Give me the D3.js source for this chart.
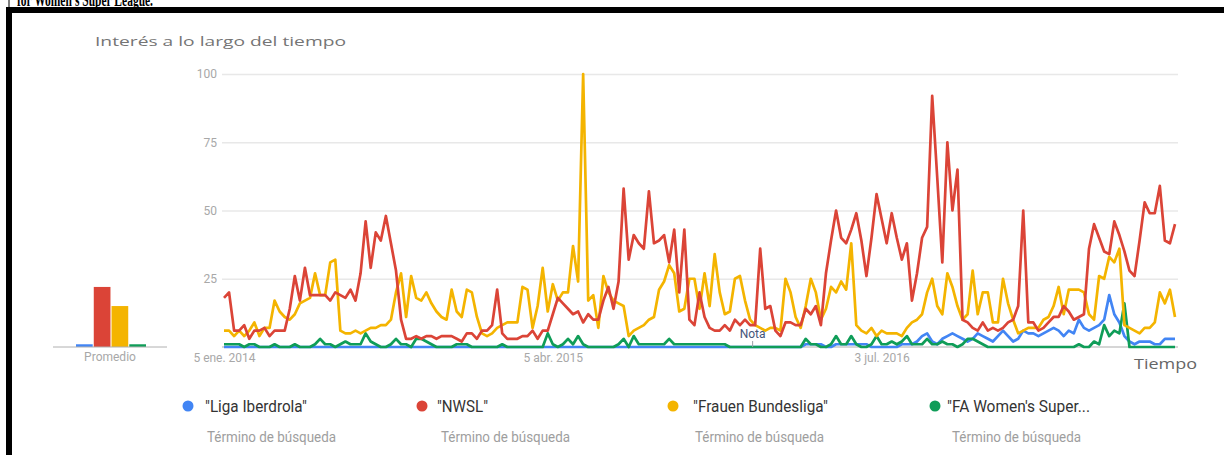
<!DOCTYPE html>
<html>
<head>
<meta charset="utf-8">
<script src="https://cdn.jsdelivr.net/npm/d3@7"></script>
<style>
  body { margin: 0; background: #fff; }
  svg { display: block; }
</style>
</head>
<body>
<svg id="chart" width="1224" height="455"></svg>
<script>
/****************************************************************
    Data (weekly, first week = 5 Jan 2014)
/****************************************************************/
const firstWeek = '2014-01-05'

const ligaIberdrola = [
  0, 0, 0, 0, 0, 0, 0, 0, 0, 0,
  0, 0, 0, 0, 0, 0, 0, 0, 0, 0,
  0, 0, 0, 0, 0, 0, 0, 0, 0, 0,
  0, 0, 0, 0, 0, 0, 0, 0, 0, 0,
  0, 0, 0, 0, 0, 0, 0, 0, 0, 0,
  0, 0, 0, 0, 0, 0, 0, 0, 0, 0,
  0, 0, 0, 0, 0, 0, 0, 0, 0, 0,
  0, 0, 0, 0, 0, 0, 0, 0, 0, 0,
  0, 0, 0, 0, 0, 0, 0, 0, 0, 0,
  0, 0, 0, 0, 0, 0, 0, 0, 0, 0,
  0, 0, 0, 0, 0, 0, 0, 0, 0, 0,
  0, 0, 0, 0, 0, 1, 1, 1, 1, 0,
  0, 1, 1, 1, 1, 1, 1, 1, 0, 0,
  0, 0, 0, 0, 1, 1, 1, 2, 4, 5,
  2, 1, 3, 4, 5, 4, 3, 2, 3, 5,
  4, 3, 2, 4, 6, 4, 2, 3, 6, 5,
  5, 4, 5, 6, 7, 6, 4, 6, 5, 10,
  7, 6, 7, 8, 10, 19, 12, 9, 4, 2,
  1, 2, 2, 2, 1, 1, 3, 3, 3
]

const nwsl = [
  18, 20, 6, 6, 8, 3, 6, 6, 7, 4,
  6, 6, 6, 14, 26, 17, 29, 19, 19, 19,
  19, 17, 20, 19, 18, 21, 17, 27, 46, 29,
  42, 39, 48, 38, 28, 10, 3, 3, 4, 3,
  4, 4, 3, 4, 4, 4, 3, 2, 5, 5,
  3, 6, 6, 8, 21, 5, 3, 3, 3, 4,
  4, 6, 3, 6, 6, 12, 18, 16, 14, 12,
  13, 9, 12, 10, 10, 17, 22, 14, 24, 58,
  32, 41, 38, 36, 57, 38, 39, 41, 31, 43,
  20, 43, 10, 8, 20, 11, 7, 6, 6, 8,
  6, 10, 8, 10, 8, 8, 36, 14, 15, 6,
  4, 9, 9, 8, 8, 14, 12, 15, 8, 27,
  39, 50, 40, 38, 43, 49, 39, 26, 40, 56,
  47, 38, 49, 40, 32, 38, 17, 27, 40, 44,
  92, 62, 31, 75, 50, 65, 10, 9, 7, 6,
  9, 6, 7, 6, 7, 9, 10, 15, 50, 9,
  9, 6, 7, 9, 11, 11, 15, 13, 10, 11,
  12, 36, 45, 40, 35, 34, 46, 41, 35, 28,
  26, 39, 53, 49, 49, 59, 39, 38, 45
]

const frauenBundesliga = [
  6, 6, 4, 6, 4, 6, 9, 4, 7, 7,
  17, 13, 11, 10, 12, 16, 17, 18, 27, 19,
  19, 31, 32, 6, 5, 5, 6, 5, 6, 7,
  7, 8, 8, 10, 20, 27, 11, 26, 18, 17,
  20, 16, 13, 11, 10, 21, 13, 11, 21, 20,
  11, 5, 4, 5, 7, 8, 9, 9, 9, 22,
  21, 7, 15, 29, 13, 23, 17, 20, 20, 37,
  24, 100, 17, 19, 7, 26, 20, 17, 16, 15,
  4, 6, 7, 8, 10, 11, 21, 24, 30, 27,
  13, 14, 25, 25, 14, 27, 15, 34, 20, 12,
  13, 25, 26, 17, 10, 8, 7, 6, 7, 7,
  6, 25, 20, 11, 7, 15, 25, 20, 10, 14,
  22, 20, 24, 21, 38, 8, 6, 5, 7, 4,
  6, 5, 5, 5, 4, 7, 9, 10, 12, 20,
  25, 15, 12, 27, 22, 15, 10, 12, 28, 12,
  20, 20, 9, 9, 25, 16, 10, 5, 6, 7,
  7, 7, 10, 11, 15, 22, 12, 21, 21, 21,
  20, 12, 10, 26, 25, 33, 31, 36, 8, 7,
  6, 5, 7, 7, 9, 20, 16, 21, 11
]

const faWomensSuperLeague = [
  1, 1, 1, 1, 0, 1, 1, 0, 0, 0,
  1, 0, 0, 0, 1, 0, 0, 0, 1, 3,
  1, 1, 0, 1, 2, 1, 1, 1, 5, 2,
  1, 0, 0, 1, 3, 1, 1, 0, 3, 3,
  2, 1, 0, 0, 0, 0, 1, 1, 1, 0,
  0, 0, 0, 0, 0, 1, 0, 0, 0, 0,
  0, 0, 0, 0, 5, 1, 0, 1, 3, 1,
  4, 1, 0, 0, 0, 0, 0, 0, 1, 3,
  0, 4, 1, 1, 1, 1, 1, 1, 3, 1,
  1, 1, 1, 1, 1, 1, 1, 1, 1, 1,
  0, 0, 0, 0, 0, 0, 0, 0, 0, 0,
  0, 0, 0, 0, 0, 3, 1, 1, 0, 0,
  1, 4, 1, 1, 4, 1, 0, 0, 1, 4,
  1, 1, 2, 1, 2, 4, 1, 1, 1, 3,
  1, 1, 2, 1, 1, 0, 1, 3, 3, 2,
  1, 0, 0, 0, 0, 0, 0, 0, 0, 0,
  0, 0, 0, 0, 0, 0, 0, 0, 0, 1,
  0, 0, 2, 1, 8, 4, 6, 5, 16, 0,
  0, 0, 0, 0, 0, 0, 0, 0, 0
]

const seriesLabels = ['"Liga Iberdrola"', '"NWSL"', '"Frauen Bundesliga"', '"FA Women\'s Super...']
const averages = [1, 22, 15, 1]
const yTicks = [25, 50, 75, 100]
const xTickDates = ['2014-01-05', '2015-04-05', '2016-07-03']
const xTickLabels = ['5 ene. 2014', '5 abr. 2015', '3 jul. 2016']
const noteDate = '2016-01-01'

/****************************************************************
    Constant settings (layout and style only)
/****************************************************************/
const settings = {
  colors: ['#4285f4', '#db4437', '#f4b400', '#0f9d58'],
  plotLeft: 222, // gridline start
  plotRight: 1178, // gridline end
  dataLeft: 224, // first week
  dataRight: 1175, // last week
  yZero: 347,
  yHundred: 74,
  barLeft: 76,
  barRight: 146,
  barBaseLeft: 53,
  barBaseRight: 167,
  legendDotX: [188, 422, 673, 935],
  legendTextX: [205, 437, 693, 947],
  legendTextW: [102, 51, 135, 143],
  legendSubX: [207, 441, 695, 952],
  lineWidth: 2.7,
  tickFont: 'Roboto',
  grid: '#e8e8e8',
  tickColor: '#a8a8a8'
}

const svg = d3.select('#chart')
const parse = d3.timeParse('%Y-%m-%d')

/****************************************************************
    Pieces of the page the chart was cut out of
/****************************************************************/
svg.append('text')
  .text("for Women's Super League.")
  .attr('x', 17)
  .attr('y', 6)
  .attr('textLength', 136)
  .attr('lengthAdjust', 'spacingAndGlyphs')
  .style('font-family', 'Liberation Serif')
  .style('font-weight', 'bold')
  .style('font-size', '18px')
svg.append('line').attr('x1', 9).attr('x2', 9).attr('y1', 0).attr('y2', 8)
  .style('stroke', '#000').style('stroke-width', 1)
svg.append('rect').attr('x', 6).attr('y', 7).attr('width', 1218).attr('height', 6).style('fill', '#000')
svg.append('rect').attr('x', 6).attr('y', 7).attr('width', 6).attr('height', 448).style('fill', '#000')

/****************************************************************
    Scales
/****************************************************************/
const weeks = nwsl.map((d, i) => d3.timeWeek.offset(parse(firstWeek), i))
const x = d3.scaleTime()
  .domain([weeks[0], weeks[weeks.length - 1]])
  .range([settings.dataLeft, settings.dataRight])
const y = d3.scaleLinear().domain([0, 100]).range([settings.yZero, settings.yHundred])

/****************************************************************
    Title
/****************************************************************/
svg.append('text')
  .text('Interés a lo largo del tiempo')
  .attr('x', 95)
  .attr('y', 46)
  .attr('textLength', 251)
  .attr('lengthAdjust', 'spacingAndGlyphs')
  .style('font-family', 'Open Sans')
  .style('font-size', '13px')
  .style('fill', '#757575')

/****************************************************************
    Y grid and labels
/****************************************************************/
const yAxis = svg.append('g')
  .attr('transform', `translate(${settings.plotLeft},0)`)
  .call(d3.axisLeft(y).tickValues(yTicks)
    .tickSize(-(settings.plotRight - settings.plotLeft)).tickPadding(5))
yAxis.select('.domain').remove()
yAxis.selectAll('line').style('stroke', settings.grid).style('stroke-width', 1.5)
yAxis.selectAll('text')
  .style('font-family', settings.tickFont)
  .style('font-size', '12px')
  .style('fill', settings.tickColor)

// baseline
svg.append('line')
  .attr('x1', settings.plotLeft).attr('x2', settings.plotRight)
  .attr('y1', y(0)).attr('y2', y(0))
  .style('stroke', '#c8c8c8').style('stroke-width', 1.5)

/****************************************************************
    X labels
/****************************************************************/
const xAxis = svg.append('g')
  .attr('transform', `translate(0,${y(0)})`)
  .call(d3.axisBottom(x).tickValues(xTickDates.map(parse))
    .tickFormat((d, i) => xTickLabels[i]).tickSize(0).tickPadding(6))
xAxis.select('.domain').remove()
xAxis.selectAll('text')
  .style('font-family', settings.tickFont)
  .style('font-size', '12px')
  .style('fill', settings.tickColor)

svg.append('text')
  .text('Tiempo')
  .attr('x', 1134)
  .attr('y', 369)
  .attr('textLength', 63)
  .attr('lengthAdjust', 'spacingAndGlyphs')
  .style('font-family', 'Open Sans')
  .style('font-size', '14px')
  .style('fill', '#666')

/****************************************************************
    Lines
/****************************************************************/
const allSeries = [ligaIberdrola, nwsl, frauenBundesliga, faWomensSuperLeague]
const line = d3.line()
  .x((d, i) => x(weeks[i]))
  .y(d => y(d))
  .curve(d3.curveLinear)

const drawOrder = [0, 3, 2, 1]
drawOrder.forEach(s => {
  svg.append('path')
    .datum(allSeries[s])
    .attr('d', line)
    .style('fill', 'none')
    .style('stroke', settings.colors[s])
    .style('stroke-width', settings.lineWidth)
    .style('stroke-linejoin', 'round')
})

// note marker
const noteX = x(parse(noteDate))
svg.append('line')
  .attr('x1', noteX + 4).attr('x2', noteX + 4)
  .attr('y1', y(0) - 6).attr('y2', y(0))
  .style('stroke', '#9aa0a6').style('stroke-width', 1)
svg.append('text')
  .text('Nota')
  .attr('x', noteX + 4)
  .attr('y', 338)
  .attr('text-anchor', 'middle')
  .style('font-family', settings.tickFont)
  .style('font-size', '12px')
  .style('fill', '#45557a')

/****************************************************************
    Average bars
/****************************************************************/
const band = d3.scaleBand()
  .domain(seriesLabels)
  .range([settings.barLeft, settings.barRight])
  .paddingInner(0.06)

svg.append('g').selectAll('rect')
  .data(averages)
  .join('rect')
  .attr('x', (d, i) => band(seriesLabels[i]))
  .attr('width', band.bandwidth())
  .attr('y', d => y(d))
  .attr('height', d => y(0) - y(d))
  .style('fill', (d, i) => settings.colors[i])

svg.append('line')
  .attr('x1', settings.barBaseLeft).attr('x2', settings.barBaseRight)
  .attr('y1', y(0)).attr('y2', y(0))
  .style('stroke', '#b0b0b0').style('stroke-width', 1)

svg.append('text')
  .text('Promedio')
  .attr('x', (settings.barBaseLeft + settings.barBaseRight) / 2)
  .attr('y', 361)
  .attr('text-anchor', 'middle')
  .style('font-family', settings.tickFont)
  .style('font-size', '12px')
  .style('fill', settings.tickColor)

/****************************************************************
    Legend
/****************************************************************/
const legend = svg.append('g')
seriesLabels.forEach((label, i) => {
  legend.append('circle')
    .attr('cx', settings.legendDotX[i])
    .attr('cy', 406)
    .attr('r', 5.5)
    .style('fill', settings.colors[i])
  legend.append('text')
    .text(label)
    .attr('x', settings.legendTextX[i])
    .attr('y', 412)
    .attr('textLength', settings.legendTextW[i])
    .attr('lengthAdjust', 'spacingAndGlyphs')
    .style('font-family', 'Roboto')
    .style('font-size', '16px')
    .style('fill', '#333')
  legend.append('text')
    .text('Término de búsqueda')
    .attr('x', settings.legendSubX[i])
    .attr('y', 442)
    .attr('textLength', 129)
    .attr('lengthAdjust', 'spacingAndGlyphs')
    .style('font-family', 'Roboto')
    .style('font-size', '14px')
    .style('fill', '#9e9e9e')
})
</script>
</body>
</html>
